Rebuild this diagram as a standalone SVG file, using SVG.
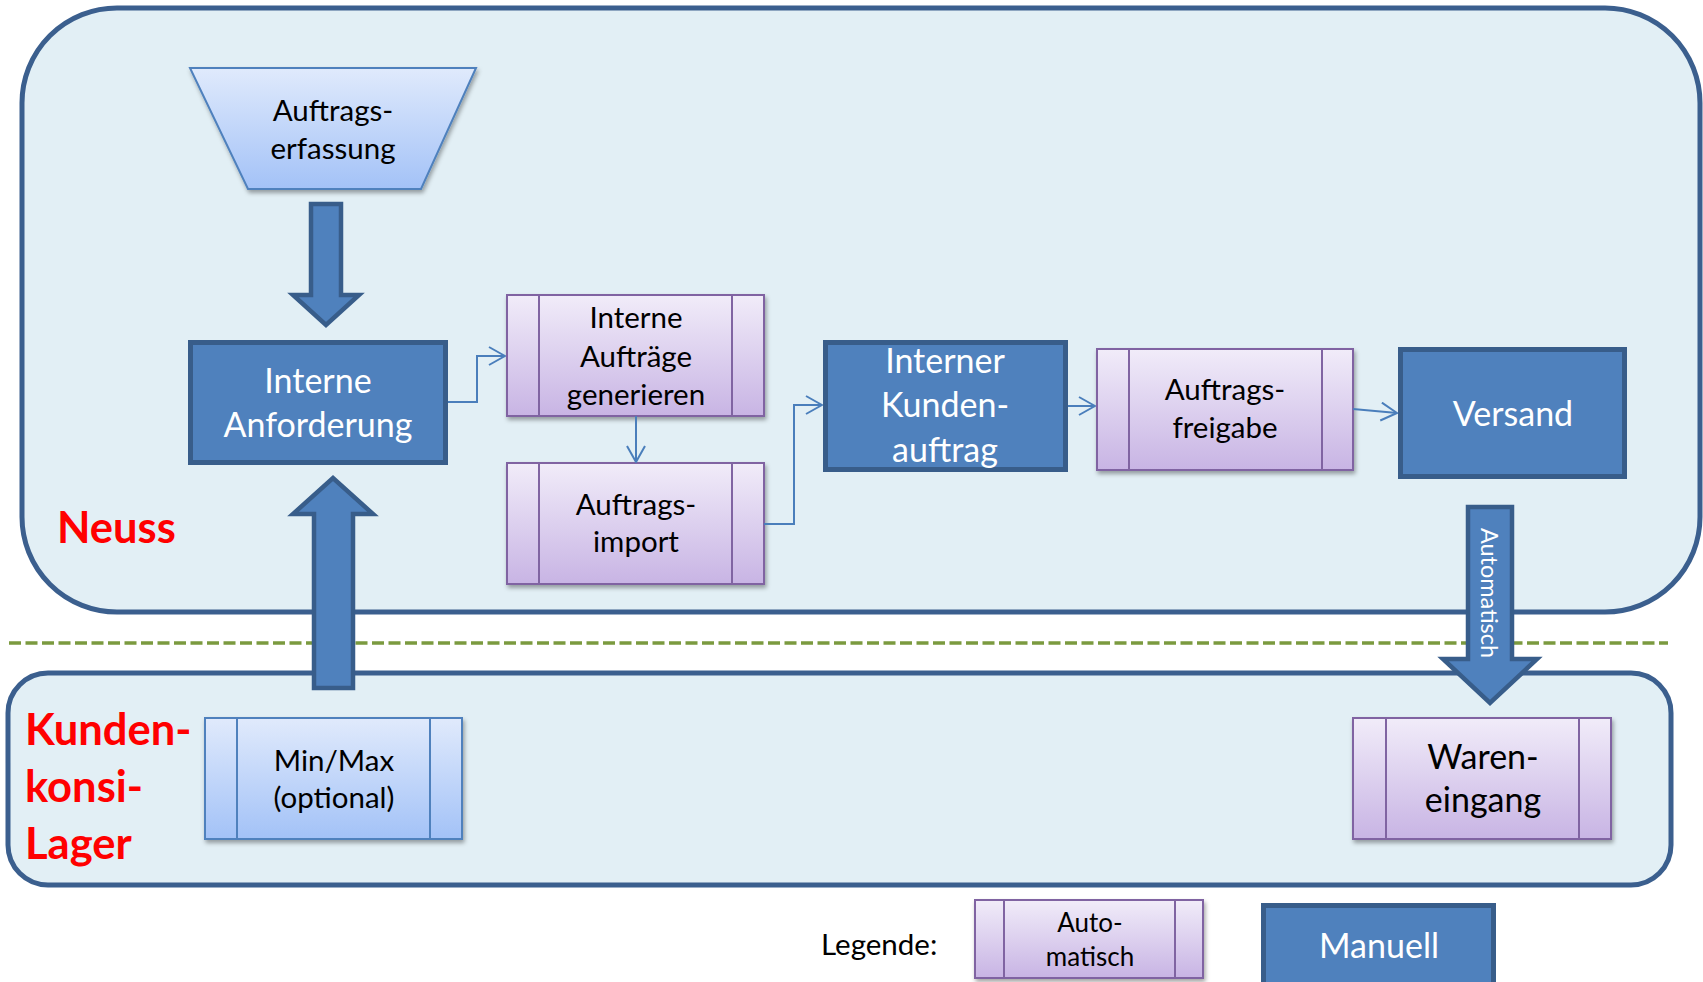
<svg xmlns="http://www.w3.org/2000/svg" width="1703" height="982" viewBox="0 0 1703 982">
<defs>
  <linearGradient id="gPurple" x1="0" y1="0" x2="0" y2="1">
    <stop offset="0" stop-color="#f1ecf9"/>
    <stop offset="1" stop-color="#c8b4e4"/>
  </linearGradient>
  <linearGradient id="gBlue" x1="0" y1="0" x2="0" y2="1">
    <stop offset="0" stop-color="#e0eafc"/>
    <stop offset="1" stop-color="#a3c2f7"/>
  </linearGradient>
  <filter id="shadow" x="-10%" y="-10%" width="125%" height="130%">
    <feDropShadow dx="1.5" dy="3" stdDeviation="2" flood-color="#000" flood-opacity="0.35"/>
  </filter>
  <marker id="arr" viewBox="0 0 18 20" refX="17" refY="10" markerWidth="18" markerHeight="20" markerUnits="userSpaceOnUse" orient="auto">
    <path d="M1,1 L17,10 L1,19" fill="none" stroke="#4a7ebb" stroke-width="2"/>
  </marker>
  <style>
    .container { fill: #e2eff5; stroke: #3b5f8e; stroke-width: 5; }
    .manual { fill: #4f81bd; stroke: #385d8a; stroke-width: 5; }
    .auto { fill: url(#gPurple); stroke: #8064a2; stroke-width: 2; filter: url(#shadow); }
    .autoline { stroke: #8064a2; stroke-width: 2; }
    .lblue { fill: url(#gBlue); stroke: #4f81bd; stroke-width: 2; filter: url(#shadow); }
    .lblueline { stroke: #4f81bd; stroke-width: 2; }
    .bigarrow { fill: #4f81bd; stroke: #385d8a; stroke-width: 4.5; stroke-linejoin: miter; }
    .conn { fill: none; stroke: #4a7ebb; stroke-width: 2; marker-end: url(#arr); }
    text { font-family: Lato, "Open Sans", "Liberation Sans", sans-serif; }
    .t { fill: #000; font-size: 29.5px; text-anchor: middle; }
    .tw { fill: #fff; font-size: 34px; text-anchor: middle; }
    .red { fill: #ff0000; font-size: 43.5px; font-weight: bold; }
  </style>
</defs>

<g id="container-neuss">
  <rect class="container" x="22" y="8" width="1678" height="604" rx="95" ry="95"/>
  <text class="red" x="57" y="543">Neuss</text>
</g>
<g id="container-lager">
  <rect class="container" x="8" y="673" width="1663" height="212" rx="40" ry="40"/>
  <text class="red" x="25" y="745">Kunden-</text>
  <text class="red" x="25" y="802">konsi-</text>
  <text class="red" x="25" y="859">Lager</text>
</g>
<line id="divider" x1="9" y1="643" x2="1668" y2="643" stroke="#7b9a3f" stroke-width="3.5" stroke-dasharray="12 4.5"/>

<g id="auftragserfassung">
  <polygon points="190,68 476,68 421,189 248,189" fill="url(#gBlue)" stroke="#4f81bd" stroke-width="2" filter="url(#shadow)"/>
  <text class="t" x="333" y="121">Auftrags-</text>
  <text class="t" x="333" y="159">erfassung</text>
</g>

<g id="interne-anforderung">
  <rect class="manual" x="190.5" y="342.5" width="255" height="120"/>
  <text class="tw" x="318" y="393">Interne</text>
  <text class="tw" x="318" y="437">Anforderung</text>
</g>

<g id="interne-auftraege">
  <rect class="auto" x="507" y="295" width="257" height="121"/>
  <line class="autoline" x1="539" y1="295" x2="539" y2="416"/>
  <line class="autoline" x1="732" y1="295" x2="732" y2="416"/>
  <text class="t" x="636" y="328">Interne</text>
  <text class="t" x="636" y="367">Aufträge</text>
  <text class="t" x="636" y="405">generieren</text>
</g>

<g id="auftragsimport">
  <rect class="auto" x="507" y="463" width="257" height="121"/>
  <line class="autoline" x1="539" y1="463" x2="539" y2="584"/>
  <line class="autoline" x1="732" y1="463" x2="732" y2="584"/>
  <text class="t" x="636" y="515">Auftrags-</text>
  <text class="t" x="636" y="552">import</text>
</g>

<g id="interner-kundenauftrag">
  <rect class="manual" x="825.5" y="342.5" width="240" height="127"/>
  <text class="tw" x="945" y="373">Interner</text>
  <text class="tw" x="945" y="417">Kunden-</text>
  <text class="tw" x="945" y="462">auftrag</text>
</g>

<g id="auftragsfreigabe">
  <rect class="auto" x="1097" y="349" width="256" height="121"/>
  <line class="autoline" x1="1129" y1="349" x2="1129" y2="470"/>
  <line class="autoline" x1="1322" y1="349" x2="1322" y2="470"/>
  <text class="t" x="1225" y="400">Auftrags-</text>
  <text class="t" x="1225" y="438">freigabe</text>
</g>

<g id="versand">
  <rect class="manual" x="1400.5" y="349.5" width="224" height="127"/>
  <text class="tw" x="1513" y="426">Versand</text>
</g>

<g id="minmax">
  <rect class="lblue" x="205" y="718" width="257" height="121"/>
  <line class="lblueline" x1="237" y1="718" x2="237" y2="839"/>
  <line class="lblueline" x1="430" y1="718" x2="430" y2="839"/>
  <text class="t" x="334" y="771">Min/Max</text>
  <text class="t" x="334" y="808">(optional)</text>
</g>

<g id="wareneingang">
  <rect class="auto" x="1353" y="718" width="258" height="121"/>
  <line class="autoline" x1="1386" y1="718" x2="1386" y2="839"/>
  <line class="autoline" x1="1579" y1="718" x2="1579" y2="839"/>
  <text class="t" x="1483" y="769" style="font-size:34px">Waren-</text>
  <text class="t" x="1483" y="812" style="font-size:34px">eingang</text>
</g>

<g id="connectors">
  <polyline class="conn" points="448,402 477,402 477,356 505,356"/>
  <polyline class="conn" points="636,416 636,462"/>
  <polyline class="conn" points="764,524 794,524 794,405 822,405"/>
  <polyline class="conn" points="1068,406 1095,406"/>
  <polyline class="conn" points="1353,409 1397,413"/>
  <polygon class="bigarrow" points="311,204 341,204 341,295 359,295 326,325 293,295 311,295"/>
  <polygon class="bigarrow" points="314,688 353,688 353,514 373,514 333,478 293,514 314,514"/>
  <polygon class="bigarrow" points="1468,507 1512,507 1512,659 1537,659 1490,703 1443,659 1468,659"/>
  <text x="1481" y="593" transform="rotate(90 1481 593)" fill="#fff" font-size="23.5" text-anchor="middle">Automatisch</text>
</g>

<g id="legende">
  <text x="821" y="955" font-size="29.5" fill="#000">Legende:</text>
</g>
<g id="legend-auto">
  <rect class="auto" x="975" y="900" width="228" height="78"/>
  <line class="autoline" x1="1004" y1="900" x2="1004" y2="978"/>
  <line class="autoline" x1="1175" y1="900" x2="1175" y2="978"/>
  <text class="t" x="1090" y="932" style="font-size:26px">Auto-</text>
  <text class="t" x="1090" y="966" style="font-size:26px">matisch</text>
</g>
<g id="legend-manuell">
  <rect class="manual" x="1263.5" y="905.5" width="230" height="100"/>
  <text class="tw" x="1379" y="958">Manuell</text>
</g>
</svg>
